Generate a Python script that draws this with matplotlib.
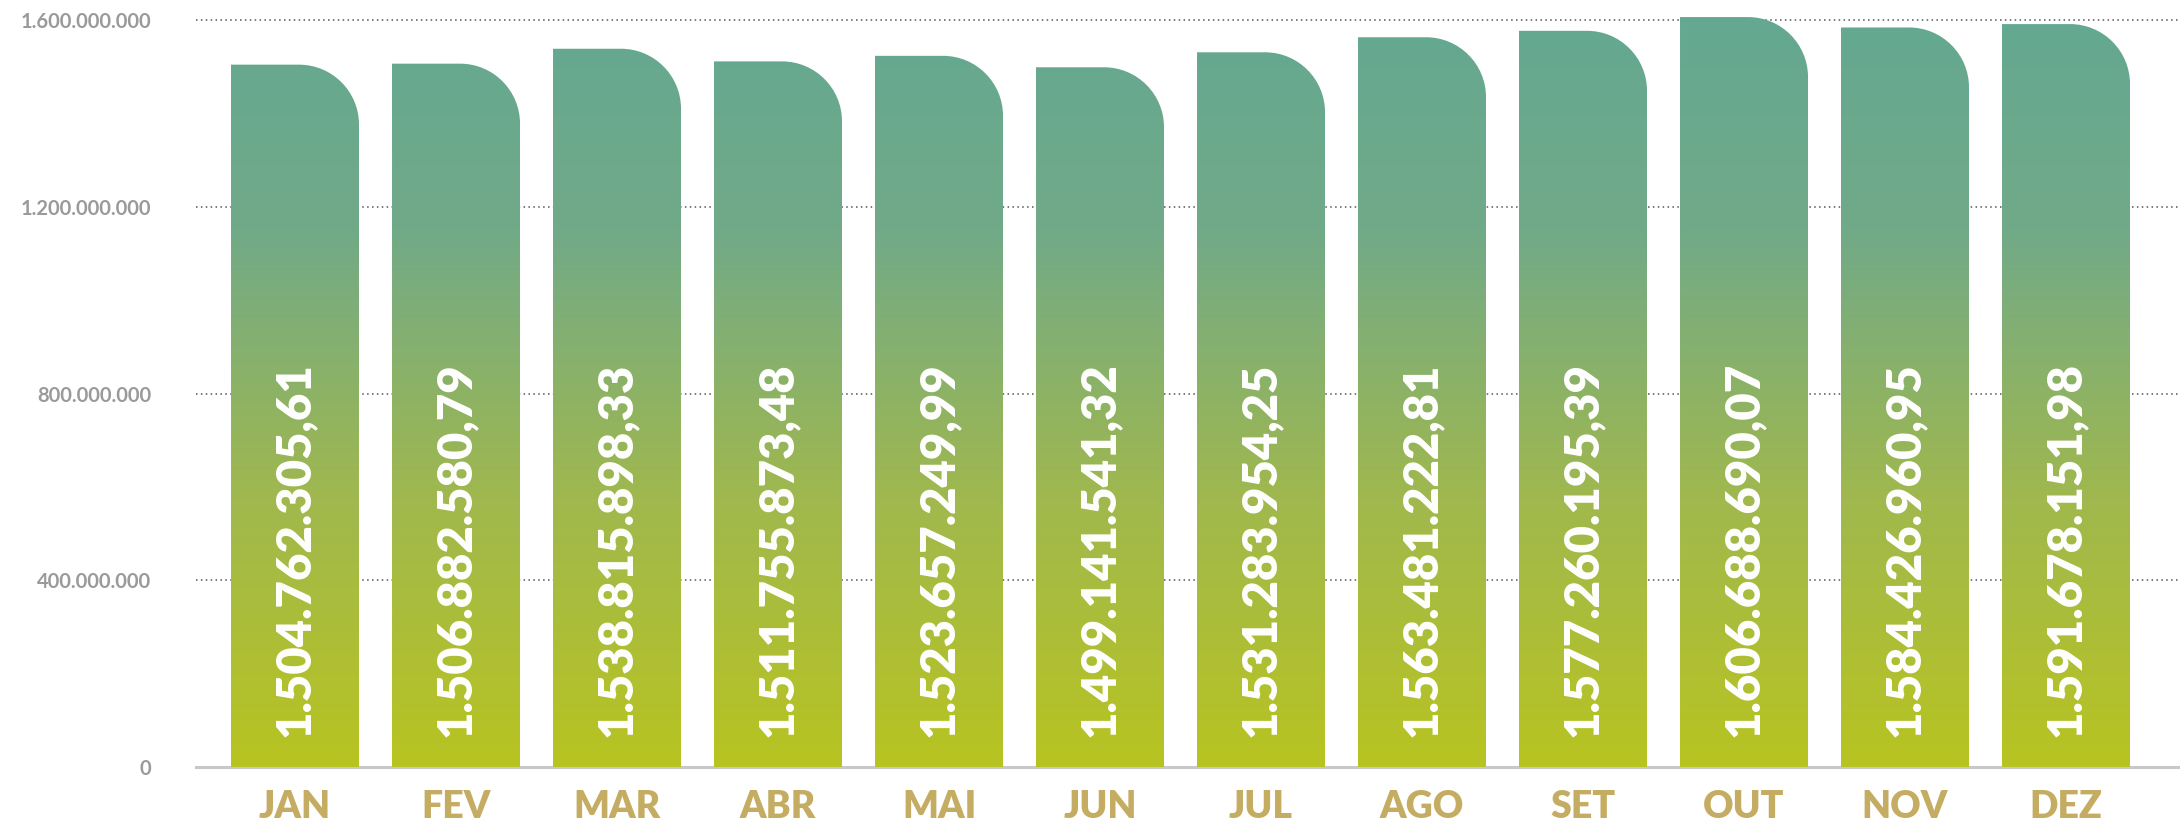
import numpy as np
import matplotlib
matplotlib.use("Agg")
import matplotlib.pyplot as plt
from matplotlib.path import Path
from matplotlib.patches import PathPatch
from matplotlib.colors import LinearSegmentedColormap

months = ["JAN", "FEV", "MAR", "ABR", "MAI", "JUN", "JUL", "AGO", "SET", "OUT", "NOV", "DEZ"]
values = [1504762305.61, 1506882580.79, 1538815898.33, 1511755873.48, 1523657249.99, 1499141541.32,
          1531283954.25, 1563481222.81, 1577260195.39, 1606688690.07, 1584426960.95, 1591678151.98]
value_labels = ["1.504.762.305,61", "1.506.882.580,79", "1.538.815.898,33", "1.511.755.873,48",
                "1.523.657.249,99", "1.499.141.541,32", "1.531.283.954,25", "1.563.481.222,81",
                "1.577.260.195,39", "1.606.688.690,07", "1.584.426.960,95", "1.591.678.151,98"]
yticks = [0, 400e6, 800e6, 1200e6, 1600e6]
ytick_labels = ["0", "400.000.000", "800.000.000", "1.200.000.000", "1.600.000.000"]

W, H = 2180, 825
fig = plt.figure(figsize=(W / 100, H / 100), dpi=100)
ymax = 1.64e9
px_per_unit = 186.7 / 400e6
ax_h = ymax * px_per_unit
ax = fig.add_axes([196 / W, (H - 767) / H, (W - 196) / W, ax_h / H])
for s in ax.spines.values():
    s.set_visible(False)

# gradient colours, bottom -> top
cmap = LinearSegmentedColormap.from_list("g", [(0.0, "#b8c421"), (0.35, "#a0b84e"),
                                               (0.7, "#71aa88"), (1.0, "#63a892")])
grad = np.linspace(0, 1, 256).reshape(-1, 1)

# grid
for t in yticks[1:]:
    ax.axhline(t, color="#555555", lw=1.1, ls=(0, (1, 2.2)), zorder=0)
ax.axhline(0, color="#c8c8c8", lw=2.2, zorder=1, clip_on=False)

bw = 128 / 161
rx = 60 / 161
ry = 60 / px_per_unit
k = 0.5523
for i, v in enumerate(values):
    x0, x1 = i - bw / 2, i + bw / 2
    verts = [(x0, 0), (x0, v), (x1 - rx, v),
             (x1 - rx + k * rx, v), (x1, v - ry + k * ry), (x1, v - ry),
             (x1, 0), (x0, 0)]
    codes = [Path.MOVETO, Path.LINETO, Path.LINETO,
             Path.CURVE4, Path.CURVE4, Path.CURVE4,
             Path.LINETO, Path.CLOSEPOLY]
    patch = PathPatch(Path(verts, codes), facecolor="none", edgecolor="none")
    ax.add_patch(patch)
    im = ax.imshow(grad, cmap=cmap, origin="lower", aspect="auto",
                   extent=(x0, x1, 0, ymax), zorder=2, interpolation="bilinear")
    im.set_clip_path(patch)
    ax.text(i, 64e6, value_labels[i], rotation=90, rotation_mode="anchor",
            ha="left", va="center", color="white", fontsize=34,
            fontweight="heavy", family="Lato", zorder=3)

ax.set_xlim(-0.615, 11.708)
ax.set_ylim(0, ymax)

ax.set_xticks([])
ax.set_yticks(yticks)
ax.set_yticklabels(ytick_labels, color="#9a9a9a", fontsize=14.5, family="Lato", fontweight="bold")
ax.tick_params(axis="y", length=0, pad=32)

for i, m in enumerate(months):
    ax.text(i, -(818 - 767) / ax_h, m, transform=ax.get_xaxis_transform(),
            ha="center", va="baseline", color="#c4ad63", fontsize=27,
            fontweight="heavy", family="Lato")

fig.savefig("out.png", dpi=100)
